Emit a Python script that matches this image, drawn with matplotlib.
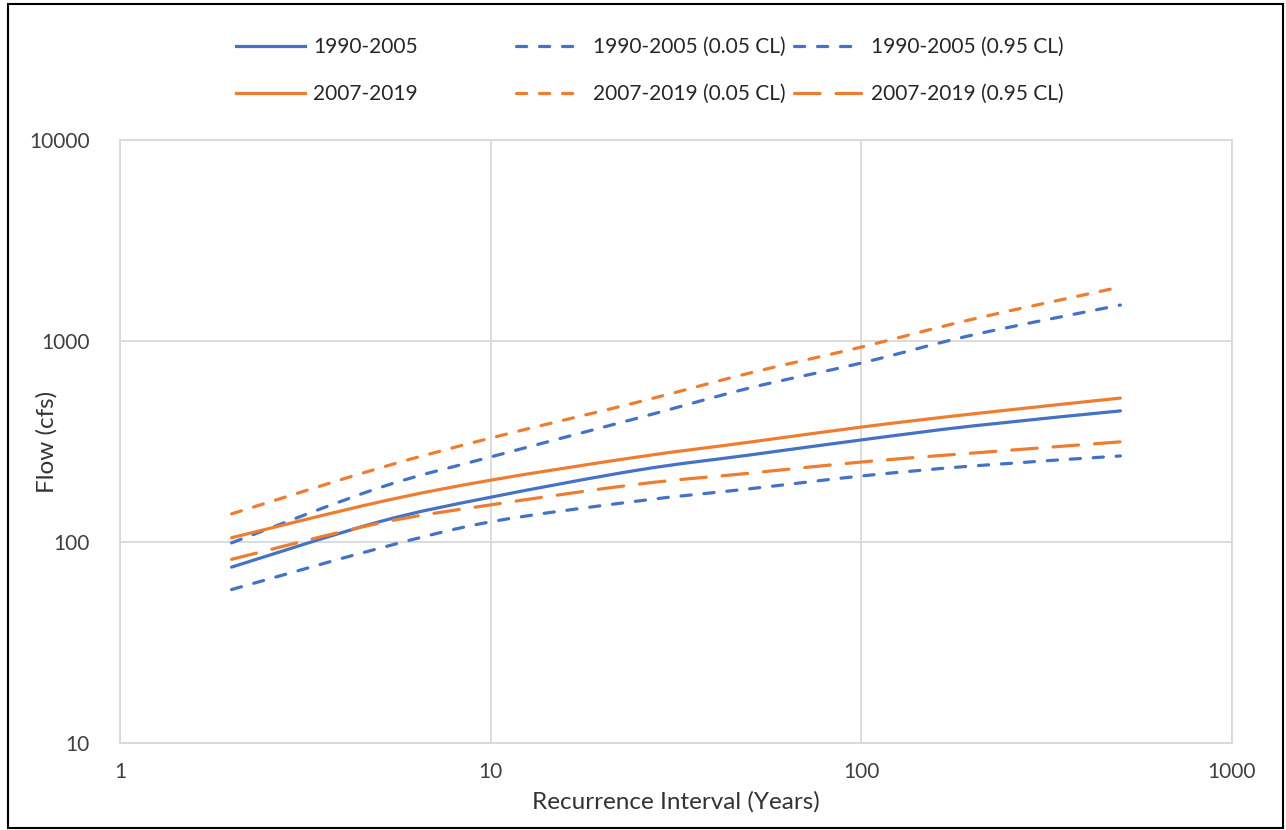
import matplotlib
matplotlib.use("Agg")
import numpy as np
import matplotlib.pyplot as plt
from matplotlib.lines import Line2D
from matplotlib.patches import Rectangle, PathPatch
from matplotlib.path import Path

# ---- data ----
recurrence = [2, 5, 10, 25, 50, 100, 200, 500]
flow_1990 = [75, 126, 167, 228, 271, 322, 378, 449]
flow_1990_05 = [99, 186, 265, 414, 584, 777, 1072, 1510]
flow_1990_95 = [58, 93, 126, 160, 184, 213, 239, 268]
flow_2007 = [105, 158, 203, 265, 314, 373, 434, 520]
flow_2007_05 = [138, 233, 329, 497, 693, 933, 1285, 1856]
flow_2007_95 = [82, 124, 153, 194, 220, 250, 277, 315]

x_ticks = [1, 10, 100, 1000]
y_ticks = [10, 100, 1000, 10000]

BLUE = "#4472C4"
ORANGE = "#ED7D31"
GRID = "#D9D9D9"
FONT = ["Lato", "DejaVu Sans"]

plt.rcParams["font.family"] = FONT

W, H = 1286, 830
fig = plt.figure(figsize=(W / 100, H / 100), dpi=100)
ax = fig.add_axes([120 / W, 1 - 743 / H, (1232 - 120) / W, (743 - 140) / H])

lw = 2.3
short = (3.2, 4.0)
long_ = (8.0, 5.0)


def smooth_path(xs, ys):
    """Excel-style smoothed line: cubic Bezier segments through the points
    (control points computed in log-log space, i.e. display space)."""
    lx = np.log10(np.asarray(xs, float))
    ly = np.log10(np.asarray(ys, float))
    P = np.column_stack([lx, ly])
    n = len(P)
    verts = [P[0]]
    codes = [Path.MOVETO]
    for i in range(n - 1):
        p_prev = P[i - 1] if i > 0 else P[i]
        p_next2 = P[i + 2] if i + 2 < n else P[i + 1]
        c1 = P[i] + (P[i + 1] - p_prev) / 6.0
        c2 = P[i + 1] - (p_next2 - P[i]) / 6.0
        verts += [c1, c2, P[i + 1]]
        codes += [Path.CURVE4] * 3
    verts = 10 ** np.array(verts)
    return Path(verts, codes)


series = [
    (flow_1990, BLUE, None, "1990-2005"),
    (flow_1990_05, BLUE, short, "1990-2005 (0.05 CL)"),
    (flow_1990_95, BLUE, short, "1990-2005 (0.95 CL)"),
    (flow_2007, ORANGE, None, "2007-2019"),
    (flow_2007_05, ORANGE, short, "2007-2019 (0.05 CL)"),
    (flow_2007_95, ORANGE, long_, "2007-2019 (0.95 CL)"),
]

ax.set_xscale("log")
ax.set_yscale("log")
ax.set_xlim(1, 1000)
ax.set_ylim(10, 10000)

handles = {}
for vals, col, dash, lab in series:
    ls = "-" if dash is None else (0, dash)
    patch = PathPatch(smooth_path(recurrence, vals), fill=False, edgecolor=col,
                      lw=lw, linestyle=ls, capstyle="round", joinstyle="round",
                      zorder=3)
    ax.add_patch(patch)
    h = Line2D([], [], color=col, lw=lw)
    if dash is not None:
        h.set_dashes(dash)
        h.set_dash_capstyle("round")
    handles[lab] = h

ax.set_xticks(x_ticks)
ax.set_xticklabels([str(v) for v in x_ticks])
ax.set_yticks(y_ticks)
ax.set_yticklabels([str(v) for v in y_ticks])
ax.minorticks_off()
ax.tick_params(length=0, labelsize=15, colors="#404040", pad=14)
ax.tick_params(axis="y", pad=22)
ax.grid(True, which="major", color=GRID, lw=1.3)
ax.set_axisbelow(True)
for s in ax.spines.values():
    s.set_color(GRID)
    s.set_linewidth(1.3)

ax.set_xlabel("Recurrence Interval (Years)", fontsize=17.5, color="#333333", labelpad=6)
ax.set_ylabel("Flow (cfs)", fontsize=17.5, color="#333333")
ax.yaxis.set_label_coords((58 - 120) / (1232 - 120), 0.5)

# legend: three columns, two rows
cols = [
    (["1990-2005", "2007-2019"], 236),
    (["1990-2005 (0.05 CL)", "2007-2019 (0.05 CL)"], 516),
    (["1990-2005 (0.95 CL)", "2007-2019 (0.95 CL)"], 794),
]
for labs, xpix in cols:
    leg = fig.legend([handles[l] for l in labs], labs, loc="upper left",
                     bbox_to_anchor=(xpix / W, 1 - 37 / H), frameon=False,
                     fontsize=15, handlelength=3.3, handletextpad=0.4,
                     labelspacing=1.3, borderpad=0, borderaxespad=0)
    for t in leg.get_texts():
        t.set_color("#262626")

fig.patches.append(Rectangle((8 / W, 2 / H), (1283 - 8) / W, (826 - 2) / H,
                             transform=fig.transFigure, fill=False,
                             edgecolor="#000000", lw=1.5))

fig.savefig("out.png", dpi=100, facecolor="white")
